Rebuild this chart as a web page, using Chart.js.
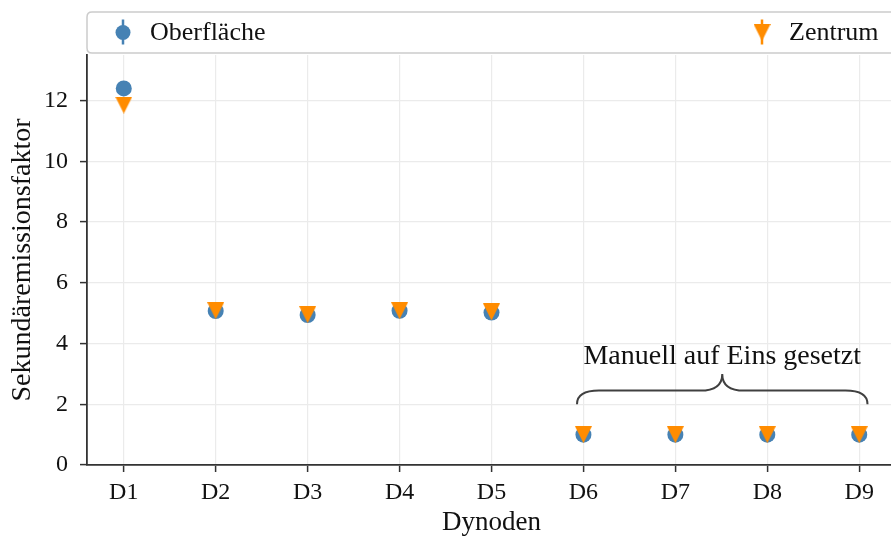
<!DOCTYPE html>
<html>
<head>
<meta charset="utf-8">
<script src="https://cdn.jsdelivr.net/npm/chart.js@4.4.0/dist/chart.umd.min.js"></script>
<style>
  html, body { margin: 0; padding: 0; background: #fff; overflow: hidden; }
  #wrap { width: 891px; height: 539px; overflow: hidden; }
</style>
</head>
<body>
<div id="wrap"><canvas id="chart" width="905" height="539"></canvas></div>
<script>
// Daten
const categories = ['D1', 'D2', 'D3', 'D4', 'D5', 'D6', 'D7', 'D8', 'D9'];
const oberflaeche = [12.4, 5.07, 4.94, 5.08, 5.02, 1.0, 1.0, 1.0, 1.0];
const zentrum = [11.85, 5.08, 4.95, 5.08, 5.04, 1.0, 1.0, 1.0, 1.0];
const yTicks = [0, 2, 4, 6, 8, 10, 12];
const seriesNames = ['Oberfläche', 'Zentrum'];
const braceX = [4.93, 8.09];
const braceY = [2.0, 2.45, 3.0];
const braceLabel = 'Manuell auf Eins gesetzt';

const BLUE = '#4682b4';
const ORANGE = '#ff8c00';
const FONT = "'Liberation Serif', 'DejaVu Serif', serif";

Chart.defaults.font.family = FONT;
Chart.defaults.color = '#111';

// Dreieck (nach unten), mittig in der Bounding-Box wie bei matplotlib
const makeTriangle = (size, color) => {
    const c = document.createElement('canvas');
    c.width = size;
    c.height = size;
    const g = c.getContext('2d');
    g.fillStyle = color;
    g.beginPath();
    g.moveTo(0, 0);
    g.lineTo(size, 0);
    g.lineTo(size / 2, size);
    g.closePath();
    g.fill();
    return c;
};
const triangle = makeTriangle(17, ORANGE);

const toPoints = arr => arr.map((v, i) => ({ x: i, y: v }));

// Legende mit Rahmen oberhalb der Achse
const boxLegend = {
    id: 'boxLegend',
    afterDraw(chart) {
        const { ctx, chartArea: a } = chart;
        const top = a.top - 43, bottom = a.top - 2;
        const left = a.left, right = a.right;
        const r = 5;
        ctx.save();
        ctx.beginPath();
        ctx.moveTo(left + r, top);
        ctx.lineTo(right - r, top);
        ctx.quadraticCurveTo(right, top, right, top + r);
        ctx.lineTo(right, bottom - r);
        ctx.quadraticCurveTo(right, bottom, right - r, bottom);
        ctx.lineTo(left + r, bottom);
        ctx.quadraticCurveTo(left, bottom, left, bottom - r);
        ctx.lineTo(left, top + r);
        ctx.quadraticCurveTo(left, top, left + r, top);
        ctx.closePath();
        ctx.fillStyle = 'rgba(255,255,255,0.8)';
        ctx.fill();
        ctx.strokeStyle = '#cccccc';
        ctx.lineWidth = 1.5;
        ctx.stroke();

        const cy = (top + bottom) / 2;
        const h1 = a.left + 36, h2 = a.right - 134;

        // Oberfläche: Kreis mit Fehlerbalken
        ctx.strokeStyle = BLUE;
        ctx.lineWidth = 2.5;
        ctx.beginPath();
        ctx.moveTo(h1, cy - 13);
        ctx.lineTo(h1, cy + 12);
        ctx.stroke();
        ctx.fillStyle = BLUE;
        ctx.beginPath();
        ctx.arc(h1, cy, 7.5, 0, Math.PI * 2);
        ctx.fill();

        // Zentrum: Dreieck mit Fehlerbalken
        ctx.strokeStyle = ORANGE;
        ctx.beginPath();
        ctx.moveTo(h2, cy - 13);
        ctx.lineTo(h2, cy + 12);
        ctx.stroke();
        ctx.drawImage(triangle, h2 - 8.5, cy - 8.5);

        ctx.fillStyle = '#111';
        ctx.font = `26px ${FONT}`;
        ctx.textBaseline = 'middle';
        ctx.textAlign = 'left';
        ctx.fillText(seriesNames[0], a.left + 63, cy + 1);
        ctx.fillText(seriesNames[1], a.right - 107, cy + 1);
        ctx.restore();
    }
};

// geschweifte Klammer mit Beschriftung
const bracePlugin = {
    id: 'brace',
    afterDatasetsDraw(chart) {
        const { ctx, scales: { x, y } } = chart;
        const x0 = x.getPixelForValue(braceX[0]);
        const x1 = x.getPixelForValue(braceX[1]);
        const xm = (x0 + x1) / 2;
        const yb = y.getPixelForValue(braceY[0]);
        const yh = y.getPixelForValue(braceY[1]);
        const yt = y.getPixelForValue(braceY[2]);
        const q = 22;
        ctx.save();
        ctx.strokeStyle = '#404040';
        ctx.lineWidth = 2;
        ctx.beginPath();
        ctx.moveTo(x0, yb);
        ctx.quadraticCurveTo(x0, yh, x0 + q, yh);
        ctx.lineTo(xm - q, yh);
        ctx.quadraticCurveTo(xm, yh, xm, yt);
        ctx.quadraticCurveTo(xm, yh, xm + q, yh);
        ctx.lineTo(x1 - q, yh);
        ctx.quadraticCurveTo(x1, yh, x1, yb);
        ctx.stroke();

        ctx.fillStyle = '#111';
        ctx.font = `28px ${FONT}`;
        ctx.textAlign = 'center';
        ctx.textBaseline = 'alphabetic';
        ctx.fillText(braceLabel, xm, yt - 10);
        ctx.restore();
    }
};

const ctx = document.getElementById('chart').getContext('2d');
new Chart(ctx, {
    type: 'scatter',
    data: {
        datasets: [{
            label: seriesNames[0],
            data: toPoints(oberflaeche),
            pointStyle: 'circle',
            pointRadius: 8,
            pointHoverRadius: 8,
            backgroundColor: BLUE,
            borderColor: BLUE,
            borderWidth: 0,
            order: 2
        }, {
            label: seriesNames[1],
            data: toPoints(zentrum),
            pointStyle: triangle,
            pointRadius: 9,
            backgroundColor: ORANGE,
            borderColor: ORANGE,
            borderWidth: 0,
            order: 1
        }]
    },
    options: {
        responsive: false,
        animation: false,
        layout: { padding: { top: 55, right: 8, left: 0, bottom: 0 } },
        plugins: {
            legend: { display: false },
            tooltip: { enabled: false }
        },
        scales: {
            x: {
                type: 'linear',
                min: -0.4,
                max: 8.4,
                afterBuildTicks: s => { s.ticks = categories.map((c, i) => ({ value: i })); },
                afterFit: s => { s.height = 74; },
                ticks: {
                    callback: v => categories[v],
                    font: { size: 24 },
                    padding: 6,
                    maxRotation: 0,
                    autoSkip: false
                },
                grid: {
                    color: '#ebebeb',
                    lineWidth: 1.2,
                    tickColor: '#333',
                    tickLength: 7,
                    tickWidth: 1.5
                },
                border: { color: '#333', width: 1.8 },
                title: {
                    display: true,
                    text: 'Dynoden',
                    font: { size: 27 },
                    padding: { top: 1, bottom: 0 }
                }
            },
            y: {
                min: 0,
                max: 13.5,
                afterBuildTicks: s => { s.ticks = yTicks.map(v => ({ value: v })); },
                afterFit: s => { s.width = 87; },
                ticks: {
                    font: { size: 24 },
                    padding: 12
                },
                grid: {
                    color: '#ebebeb',
                    lineWidth: 1.2,
                    tickColor: '#333',
                    tickLength: 7,
                    tickWidth: 1.5
                },
                border: { color: '#333', width: 1.8 },
                title: {
                    display: true,
                    text: 'Sekundäremissionsfaktor',
                    font: { size: 28 },
                    padding: { top: 6, bottom: 0 }
                }
            }
        }
    },
    plugins: [bracePlugin, boxLegend]
});
</script>
</body>
</html>
